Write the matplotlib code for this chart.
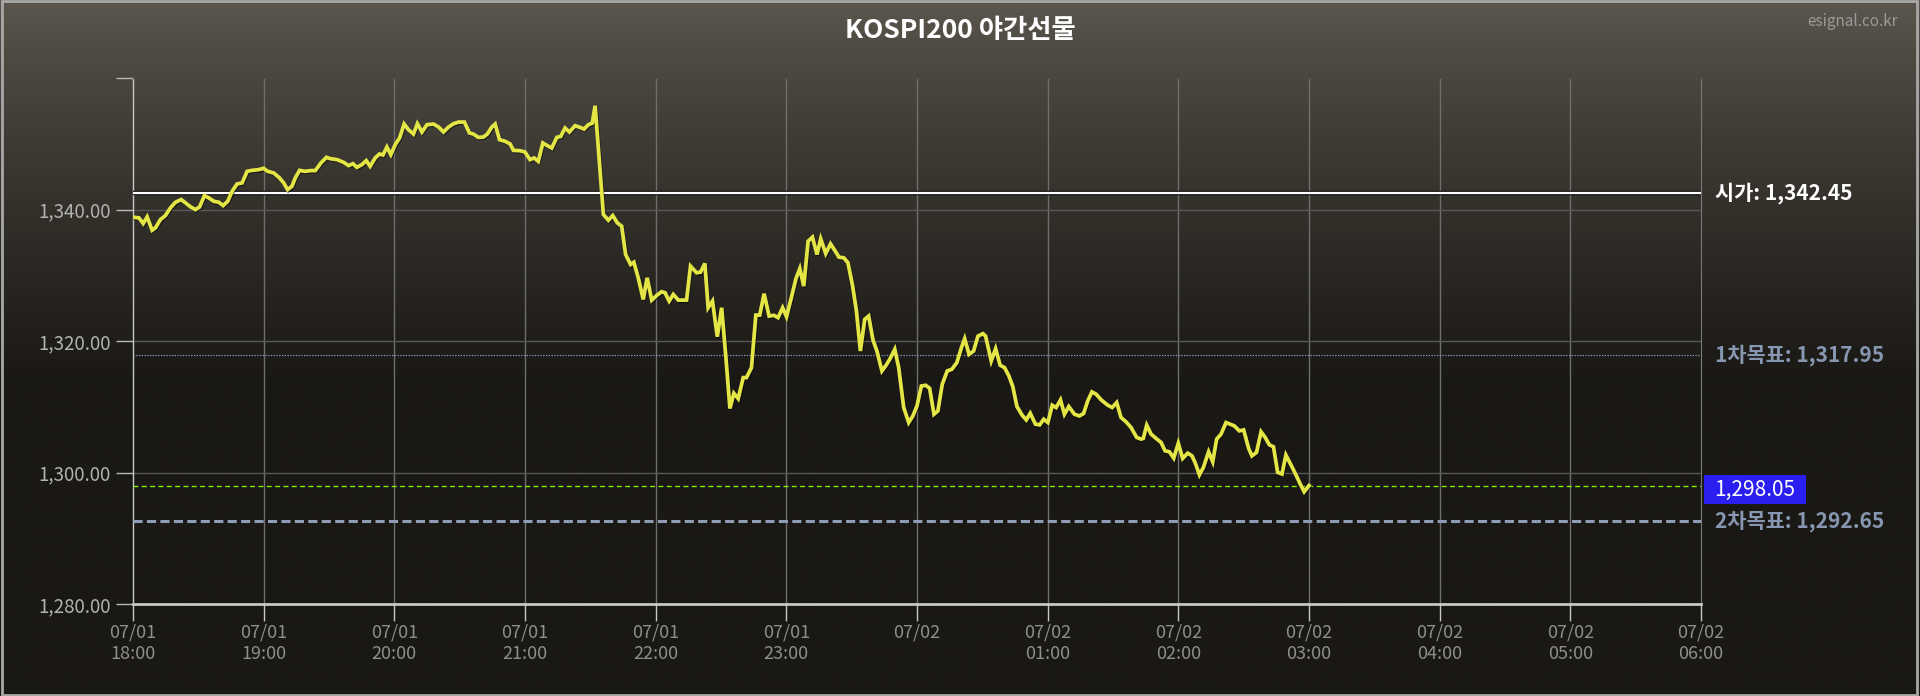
import numpy as np
import matplotlib
matplotlib.use("Agg")
import matplotlib.pyplot as plt
import matplotlib.patheffects as pe
from matplotlib.patches import Rectangle

plt.rcParams['font.family'] = ['Noto Sans CJK KR', 'DejaVu Sans']

# KOSPI200 night futures, minutes after 07/01 18:00 and price
minutes = [0, 2.7, 4.7, 6.5, 8.8, 10.3, 12.6, 14.9, 17.2, 19.5, 22.1, 24.1, 26.4, 28.7, 30.6,
           32.8, 34.8, 37.1, 39.4, 41.4, 43.5, 45.5, 47.8, 50.1, 52.4, 54.7, 57.7, 60.0, 61.8,
           64.6, 67.3, 69.2, 71.0, 73.0, 74.5, 76.5, 79.1, 81.4, 83.7, 86.3, 88.8, 90.6, 93.7,
           96.7, 99.0, 101.0, 102.8, 105.1, 107.1, 108.9, 111.2, 113.2, 114.8, 116.6, 118.4,
           120.4, 122.4, 124.5, 126.5, 128.8, 130.6, 132.7, 135.0, 138.0, 140.3, 142.6, 144.9,
           147.2, 149.5, 152.2, 154.5, 156.3, 158.6, 160.9, 162.7, 164.8, 166.3, 168.3, 170.9,
           173.2, 174.7, 177.7, 180.0, 182.3, 184.2, 186.1, 188.2, 190.3, 192.3, 194.6, 196.4,
           198.4, 200.4, 203.0, 205.3, 207.1, 209.1, 210.9, 212.2, 216.0, 218.3, 220.3, 222.4,
           224.4, 226.2, 228.5, 230.0, 232.0, 234.3, 236.1, 238.2, 240.5, 242.7, 244.3, 246.2,
           248.1, 250.4, 254.2, 256.0, 258.8, 260.6, 262.6, 264.1, 266.1, 268.3, 270.3, 272.2,
           274.1, 275.9, 277.9, 280.2, 281.7, 284.0, 286.0, 287.8, 289.8, 292.1, 294.3, 296.2,
           298.3, 300.1, 302.4, 304.4, 306.2, 308.0, 310.0, 312.0, 314.1, 315.8, 318.1, 320.3,
           322.2, 324.2, 326.4, 328.3, 330.4, 332.2, 334.0, 336.0, 337.8, 339.8, 341.6, 343.9,
           345.9, 347.5, 349.8, 351.6, 353.9, 356.2, 358.1, 360.0, 362.0, 364.0, 365.8, 367.8,
           369.6, 371.6, 373.9, 376.0, 378.3, 380.4, 381.9, 383.9, 386.0, 388.0, 390.3, 391.5,
           394.1, 396.1, 398.2, 400.2, 402.2, 404.0, 405.9, 408.3, 410.2, 412.0, 414.4, 416.3,
           418.2, 420.1, 422.1, 423.9, 425.9, 427.7, 429.7, 432.3, 434.6, 436.5, 438.4, 440.3,
           442.3, 444.6, 447.6, 449.6, 451.7, 453.7, 456.0, 458.3, 460.9, 462.9, 463.9, 465.5,
           467.5, 469.8, 472.1, 473.9, 475.9, 477.9, 480.0, 482.0, 484.3, 486.3, 487.8, 489.7,
           491.5, 493.9, 495.8, 497.6, 499.6, 501.9, 503.7, 505.7, 508.0, 510.0, 512.3, 513.8,
           515.9, 518.0, 519.9, 521.8, 523.7, 525.6, 527.6, 529.4, 531.7, 534.0, 536.0, 537.8,
           540.0]
price = [1338.84, 1338.74, 1337.88, 1338.89, 1336.86, 1337.22, 1338.48, 1339.09, 1340.26,
         1341.11, 1341.52, 1341.02, 1340.41, 1340.00, 1340.41, 1342.12, 1341.77, 1341.26,
         1341.11, 1340.61, 1341.26, 1342.78, 1343.90, 1344.05, 1345.81, 1345.96, 1346.07,
         1346.27, 1345.81, 1345.57, 1344.81, 1344.05, 1343.03, 1343.54, 1344.81, 1345.96,
         1345.81, 1345.92, 1345.92, 1347.09, 1347.94, 1347.74, 1347.59, 1347.18, 1346.68,
         1346.98, 1346.42, 1346.83, 1347.44, 1346.57, 1347.85, 1348.45, 1348.30, 1349.51,
         1348.35, 1349.86, 1350.88, 1353.00, 1352.14, 1351.48, 1353.05, 1351.79, 1352.90,
         1353.00, 1352.55, 1351.79, 1352.55, 1353.05, 1353.30, 1353.30, 1351.64, 1351.48,
         1350.97, 1351.03, 1351.48, 1352.55, 1353.00, 1350.62, 1350.37, 1349.97, 1349.00,
         1348.95, 1348.75, 1347.59, 1347.85, 1347.33, 1350.12, 1349.71, 1349.36, 1350.97,
         1351.12, 1352.40, 1351.79, 1352.75, 1352.49, 1352.24, 1352.90, 1353.15, 1355.78,
         1339.24, 1338.38, 1339.09, 1337.98, 1337.47, 1333.17, 1331.66, 1332.00, 1329.63,
         1326.34, 1329.63, 1326.24, 1326.95, 1327.51, 1327.36, 1326.09, 1327.10, 1326.24,
         1326.24, 1331.40, 1330.39, 1330.49, 1331.81, 1325.08, 1326.09, 1320.68, 1325.08,
         1317.74, 1309.76, 1312.08, 1311.27, 1314.46, 1314.46, 1315.98, 1323.96, 1323.96,
         1327.21, 1323.81, 1323.92, 1323.57, 1325.08, 1323.71, 1326.75, 1329.48, 1331.05,
         1328.36, 1335.19, 1335.80, 1333.17, 1335.55, 1333.32, 1334.79, 1333.82, 1332.76,
         1332.67, 1331.91, 1328.47, 1324.57, 1318.50, 1323.31, 1323.81, 1320.17, 1318.50,
         1315.47, 1316.38, 1317.24, 1318.76, 1315.98, 1309.91, 1307.63, 1308.63, 1310.15,
         1313.18, 1313.29, 1312.84, 1308.89, 1309.39, 1313.45, 1315.47, 1315.72, 1316.74,
         1319.01, 1320.38, 1317.99, 1318.50, 1320.77, 1321.14, 1320.77, 1316.98, 1318.86,
         1316.33, 1315.98, 1314.71, 1313.10, 1310.06, 1308.74, 1308.03, 1309.04, 1307.38,
         1307.27, 1308.13, 1307.63, 1310.26, 1309.91, 1311.07, 1308.89, 1310.06, 1308.89,
         1308.63, 1309.00, 1310.91, 1312.28, 1311.93, 1311.07, 1310.26, 1309.91, 1310.67,
         1308.39, 1307.73, 1306.87, 1305.36, 1305.11, 1305.21, 1307.23, 1305.86, 1305.21,
         1304.60, 1303.33, 1303.18, 1302.22, 1304.49, 1302.17, 1302.97, 1302.56, 1301.46,
         1299.68, 1300.80, 1303.18, 1301.66, 1305.11, 1305.86, 1307.63, 1307.38, 1307.12,
         1306.36, 1306.51, 1303.69, 1302.56, 1303.08, 1306.21, 1305.36, 1304.24, 1303.94,
         1300.06, 1299.80, 1302.68, 1301.21, 1299.68, 1298.27, 1297.10, 1298.05]

open_price = 1342.45
target1 = 1317.95
target2 = 1292.65
last_price = 1298.05

tick_minutes = [0, 60, 120, 180, 240, 300, 360, 420, 480, 540, 600, 660, 720]
tick_dates = ['07/01'] * 6 + ['07/02'] * 7
tick_hours = ['18:00', '19:00', '20:00', '21:00', '22:00', '23:00', '',
              '01:00', '02:00', '03:00', '04:00', '05:00', '06:00']
y_ticks = [1280, 1300, 1320, 1340, 1360]
y_labels = ['1,280.00', '1,300.00', '1,320.00', '1,340.00', '']

W, H = 1920, 696
fig = plt.figure(figsize=(W / 100, H / 100), dpi=100)

# background gradient
bg = fig.add_axes([0, 0, 1, 1], zorder=-10)
f = np.linspace(0, 1, 400)
k = np.clip(f / 0.55, 0, 1) ** 0.8
top = np.array([92, 88, 79]) / 255
bot = np.array([26, 24, 20]) / 255
grad = top[None, :] * (1 - k[:, None]) + bot[None, :] * k[:, None]
bg.imshow(grad[:, None, :], aspect='auto', extent=[0, 1, 0, 1])
bg.set_xlim(0, 1)
bg.set_ylim(0, 1)
bg.axis('off')
fig.patches.append(Rectangle((0.0008, 0.0015), 0.9975, 0.997, transform=fig.transFigure,
                             fill=False, edgecolor='#a8a8a8', linewidth=2))

ax = fig.add_axes([133 / W, 1 - 604.3 / H, (1701 - 133) / W, (604.3 - 78) / H])
ax.patch.set_alpha(0)
ax.set_xlim(0, 720)
ax.set_ylim(1280, 1360)

for m in tick_minutes[1:-1]:
    ax.axvline(m, color='#6e6e6e', lw=1, zorder=1)
for v in [1300, 1320, 1340]:
    ax.axhline(v, color='#585858', lw=1, zorder=1)

ax.axhline(open_price, color='white', lw=1.6, zorder=3,
           path_effects=[pe.Stroke(linewidth=3.2, foreground='#111111'), pe.Normal()])
ax.axhline(target1, color='#8ea2c6', lw=0.9, linestyle=(0, (1, 1.2)), zorder=3)
ax.axhline(last_price, color='#7cf000', lw=1.0, linestyle=(0, (3.5, 2.5)), zorder=3)
ax.axhline(target2, color='#8e9cb6', lw=2.2, linestyle=(0, (3, 1.4)), zorder=3)

ax.plot(minutes, price, color='#e3e645', lw=2.7, zorder=5, solid_joinstyle='miter',
        path_effects=[pe.SimpleLineShadow(offset=(0.6, -0.8), shadow_color='black', alpha=0.5),
                      pe.Normal()])

for s in ['left', 'bottom']:
    ax.spines[s].set_color('#c8c8c8')
ax.spines['bottom'].set_linewidth(2)
ax.spines['left'].set_linewidth(1)
ax.spines['right'].set_color('#7a7a7a')
ax.spines['top'].set_color('#4a4a46')

ax.set_xticks(tick_minutes)
ax.set_xticklabels([d + '\n' + h for d, h in zip(tick_dates, tick_hours)],
                   fontsize=13, color='#8e8e8e', linespacing=1.25, va='top')
ax.set_yticks(y_ticks)
ax.set_yticklabels(y_labels, fontsize=13.5, color='#b2b2b2')
ax.tick_params(axis='x', length=12, width=1, color='#c8c8c8', pad=2)
ax.tick_params(axis='y', length=12, width=1, color='#b8b8b8', pad=4)

tr = ax.get_yaxis_transform()
lx = 1.0089
ax.text(lx, open_price, '시가: 1,342.45', transform=tr, color='white', fontsize=15,
        fontweight='bold', va='center', ha='left', clip_on=False)
ax.text(lx, target1, '1차목표: 1,317.95', transform=tr, color='#8797b2', fontsize=15,
        fontweight='bold', va='center', ha='left', clip_on=False)
ax.text(lx, target2, '2차목표: 1,292.65', transform=tr, color='#8797b2', fontsize=15,
        fontweight='bold', va='center', ha='left', clip_on=False)

fig.patches.append(Rectangle((1704 / W, 1 - 504 / H), 102 / W, 29 / H, transform=fig.transFigure,
                             facecolor='#2a1ff0', edgecolor='none', zorder=5))
fig.text(1755 / W, 1 - 489.5 / H, '1,298.05', color='white', fontsize=15,
         va='center', ha='center', zorder=6)

fig.text(0.5, 1 - 30 / H, 'KOSPI200 야간선물', color='white', fontsize=19,
         fontweight='bold', ha='center', va='center')
fig.text(1853 / W, 1 - 21 / H, 'esignal.co.kr', color='#9a9a9a', fontsize=11,
         ha='center', va='center')

fig.savefig('out.png', dpi=100)
